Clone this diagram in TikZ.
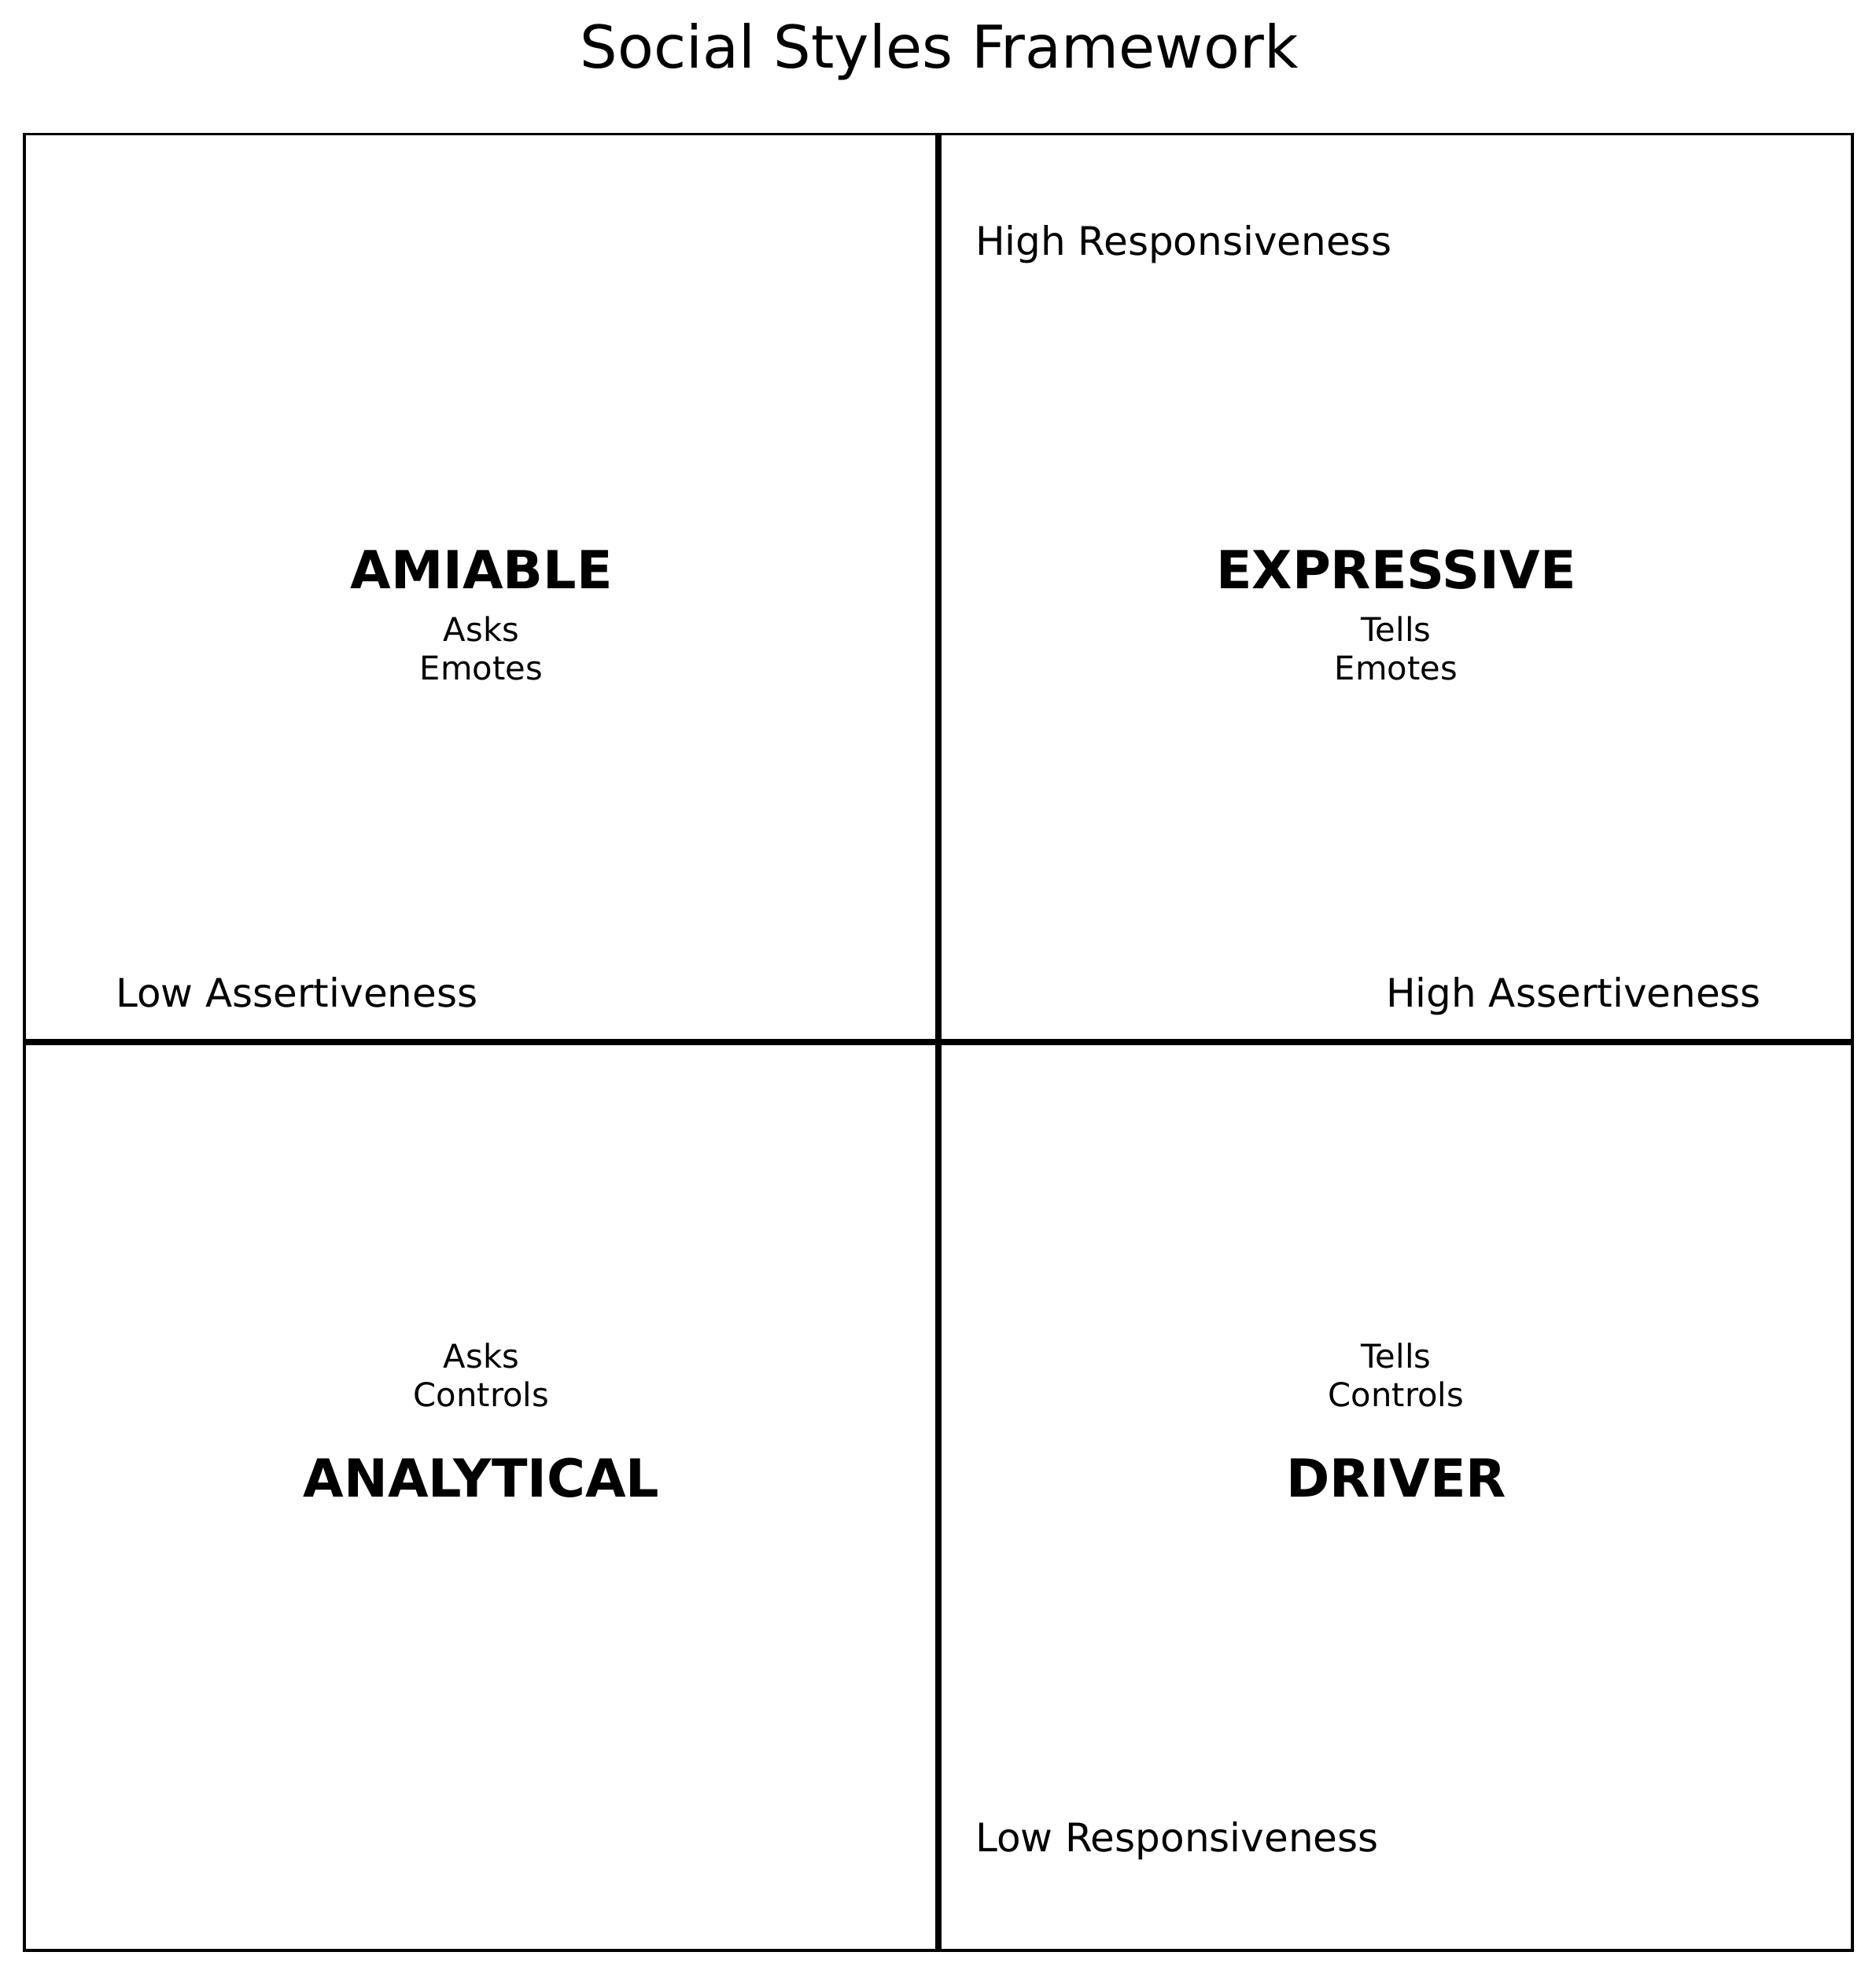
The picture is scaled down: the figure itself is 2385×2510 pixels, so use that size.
\documentclass[tikz,border=0pt]{standalone}
\usepackage{fontspec}
\setmainfont{DejaVu Sans}
\begin{document}
\begin{tikzpicture}[x=0.24bp,y=-0.24bp,
  every node/.style={inner sep=0pt, outer sep=0pt},
  heading/.style={font=\fontsize{18bp}{21.6bp}\selectfont, anchor=base},
  stylename/.style={font=\bfseries\fontsize{16bp}{19.2bp}\selectfont, anchor=base},
  trait/.style={font=\fontsize{10bp}{12bp}\selectfont, anchor=base},
  axislabel/.style={font=\fontsize{12bp}{14.4bp}\selectfont},
  frame/.style={line width=0.8bp},
  divider/.style={line width=2bp}]
  % page
  \fill[white] (0,0) rectangle (2385,2510);
  \useasboundingbox (0,0) rectangle (2385,2510);

  % title
  \node[heading] (title) at (1194,86) {Social Styles Framework};

  % quadrant grid
  \coordinate (tl) at (31,170.5);
  \coordinate (br) at (2355,2480);
  \draw[divider] (1193,170.5) -- (1193,2480);
  \draw[divider] (31,1325) -- (2355,1325);
  \draw[frame] (tl) rectangle (br);

  % top left: amiable
  \node[stylename] (amiable) at (612,748) {AMIABLE};
  \node[trait] (amiableA) at (612,815) {Asks};
  \node[trait] (amiableB) at (612,864) {Emotes};

  % top right: expressive
  \node[stylename] (expressive) at (1775,748) {EXPRESSIVE};
  \node[trait] (expressiveA) at (1775,815) {Tells};
  \node[trait] (expressiveB) at (1775,864) {Emotes};

  % bottom left: analytical
  \node[trait] (analyticalA) at (612,1739) {Asks};
  \node[trait] (analyticalB) at (612,1788) {Controls};
  \node[stylename] (analytical) at (612,1903) {ANALYTICAL};

  % bottom right: driver
  \node[trait] (driverA) at (1775,1739) {Tells};
  \node[trait] (driverB) at (1775,1788) {Controls};
  \node[stylename] (driver) at (1775,1903) {DRIVER};

  % axis labels
  \node[axislabel, anchor=base west] (lowassert) at (147,1280) {Low Assertiveness};
  \node[axislabel, anchor=base east] (highassert) at (2239,1280) {High Assertiveness};
  \node[axislabel, anchor=base west] (highresp) at (1240,324) {High Responsiveness};
  \node[axislabel, anchor=base west] (lowresp) at (1240,2354) {Low Responsiveness};
\end{tikzpicture}
\end{document}
